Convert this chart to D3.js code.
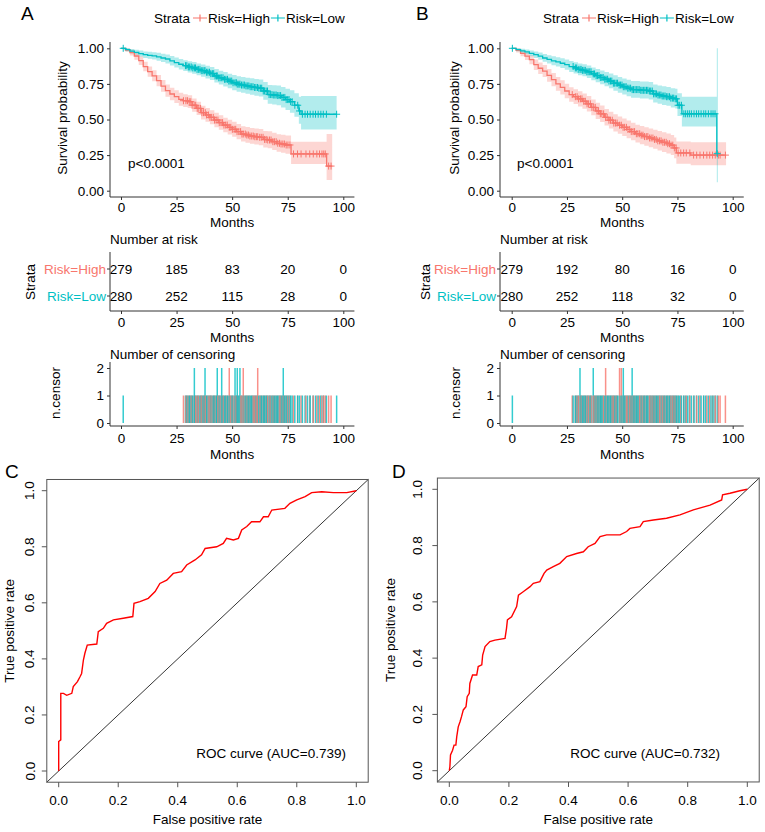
<!DOCTYPE html>
<html lang="en">
<head>
  <meta charset="UTF-8" />
  <title>Risk score survival and ROC</title>
  <script src="https://d3js.org/d3.v7.min.js"></script>
  <style>
    html, body { margin: 0; padding: 0; background: #fff; }
    svg { display: block; font-family: 'Liberation Sans', Arial, Helvetica, sans-serif; }
  </style>
</head>
<body>
<svg width="765" height="832"></svg>
<script>
  // ---- data ----
  // KM rows: [months, survival, lower CI, upper CI]
  const kmA_high = [[0,1,1,1],[2,0.988,0.975,1],[4,0.97,0.95,0.99],[6,0.946,0.92,0.972],[8,0.913,0.882,0.945],
    [10,0.871,0.838,0.905],[12,0.836,0.8,0.872],[14,0.806,0.768,0.845],[16,0.773,0.733,0.813],[18,0.735,0.694,0.777],
    [20,0.703,0.66,0.746],[22,0.679,0.636,0.723],[24,0.66,0.616,0.705],[26,0.642,0.597,0.687],[28,0.632,0.587,0.678],
    [30,0.625,0.58,0.671],[32,0.6,0.554,0.647],[34,0.578,0.531,0.625],[36,0.548,0.5,0.596],[38,0.532,0.484,0.581],
    [40,0.515,0.466,0.565],[42,0.496,0.446,0.547],[44,0.478,0.428,0.53],[46,0.461,0.41,0.513],[48,0.445,0.394,0.498],
    [50,0.431,0.379,0.485],[52,0.415,0.362,0.469],[54,0.398,0.345,0.453],[56,0.391,0.337,0.447],[58,0.384,0.33,0.441],
    [60,0.379,0.324,0.437],[62,0.375,0.319,0.434],[64,0.36,0.303,0.42],[66,0.356,0.298,0.417],[68,0.344,0.285,0.407],
    [70,0.333,0.273,0.397],[72,0.328,0.267,0.393],[74,0.321,0.259,0.387],[76.5,0.258,0.187,0.344],
    [92.5,0.173,0.075,0.398],[95,0.173,0.075,0.398]];
  const kmA_low = [[0,1,1,1],[2,0.99,0.98,1],[4,0.98,0.965,0.995],[6,0.972,0.954,0.99],[8,0.963,0.942,0.984],
    [10,0.955,0.932,0.978],[12,0.951,0.926,0.976],[14,0.947,0.921,0.973],[16,0.94,0.912,0.968],[18,0.932,0.903,0.962],
    [20,0.925,0.894,0.956],[22,0.912,0.879,0.946],[24,0.9,0.865,0.935],[26,0.888,0.852,0.925],[28,0.878,0.841,0.916],
    [30,0.869,0.83,0.909],[32,0.862,0.822,0.903],[34,0.852,0.811,0.894],[36,0.843,0.8,0.886],[38,0.832,0.788,0.877],
    [40,0.822,0.777,0.868],[42,0.806,0.759,0.854],[44,0.793,0.745,0.843],[46,0.782,0.732,0.833],[48,0.77,0.719,0.822],
    [50,0.758,0.706,0.812],[52,0.748,0.694,0.803],[54,0.742,0.687,0.798],[56,0.736,0.68,0.793],[58,0.73,0.673,0.789],
    [60,0.725,0.667,0.785],[62,0.72,0.661,0.781],[64,0.7,0.639,0.764],[66,0.675,0.61,0.742],[68,0.672,0.606,0.74],
    [70,0.668,0.6,0.738],[72,0.655,0.584,0.728],[74,0.64,0.567,0.716],[76,0.625,0.548,0.705],[78,0.6,0.52,0.685],
    [80,0.56,0.47,0.66],[81,0.537,0.43,0.665],[97,0.537,0.43,0.665]];
  const kmB_high = [[0,1,1,1],[2,0.985,0.97,1],[4,0.965,0.944,0.986],[6,0.945,0.918,0.972],[8,0.92,0.888,0.952],
    [10,0.885,0.848,0.922],[12,0.86,0.82,0.9],[14,0.84,0.798,0.882],[16,0.81,0.765,0.855],[18,0.78,0.733,0.827],
    [20,0.75,0.702,0.798],[22,0.725,0.676,0.775],[24,0.7,0.65,0.751],[26,0.675,0.624,0.727],[28,0.66,0.608,0.713],
    [30,0.645,0.592,0.699],[32,0.628,0.575,0.683],[34,0.61,0.556,0.665],[36,0.585,0.53,0.641],[38,0.56,0.504,0.617],
    [40,0.54,0.483,0.598],[42,0.515,0.457,0.574],[44,0.495,0.437,0.555],[46,0.475,0.416,0.536],[48,0.46,0.4,0.521],
    [50,0.445,0.385,0.507],[52,0.43,0.369,0.493],[54,0.415,0.354,0.478],[56,0.4,0.338,0.464],[58,0.39,0.327,0.455],
    [60,0.38,0.316,0.446],[62,0.37,0.305,0.437],[64,0.36,0.294,0.428],[66,0.35,0.283,0.419],[68,0.34,0.272,0.41],
    [70,0.33,0.261,0.401],[72,0.32,0.25,0.392],[73.5,0.3,0.228,0.374],[74.5,0.265,0.19,0.345],
    [81,0.25,0.178,0.34],[97,0.25,0.178,0.34]];
  const kmB_low = [[0,1,1,1],[2,0.99,0.98,1],[4,0.982,0.968,0.996],[6,0.975,0.958,0.992],[8,0.965,0.945,0.985],
    [10,0.955,0.932,0.978],[12,0.945,0.92,0.97],[14,0.932,0.905,0.96],[16,0.922,0.893,0.952],[18,0.912,0.881,0.944],
    [20,0.905,0.872,0.938],[22,0.895,0.861,0.93],[24,0.885,0.849,0.921],[26,0.872,0.834,0.911],[28,0.862,0.823,0.902],
    [30,0.852,0.811,0.894],[32,0.845,0.803,0.888],[34,0.835,0.792,0.879],[36,0.82,0.775,0.866],[38,0.808,0.762,0.855],
    [40,0.795,0.747,0.844],[42,0.783,0.734,0.834],[44,0.77,0.719,0.823],[46,0.755,0.702,0.81],[48,0.742,0.688,0.799],
    [50,0.73,0.675,0.788],[52,0.72,0.664,0.779],[54,0.71,0.653,0.771],[56,0.71,0.653,0.771],[58,0.705,0.647,0.767],
    [60,0.705,0.647,0.767],[62,0.7,0.641,0.763],[64,0.68,0.619,0.746],[66,0.672,0.61,0.739],[68,0.665,0.602,0.733],
    [70,0.66,0.596,0.729],[72,0.65,0.584,0.72],[74,0.645,0.578,0.716],[75,0.6,0.525,0.685],[77,0.54,0.45,0.66],
    [92.8,0.26,0.06,1.0],[93.3,0.26,0.06,1.0]];

  // censoring times in months (a repeated value = 2 censored at that time)
  const censA_high = [28.1,29.2,29.9,30.7,31.4,32.0,32.9,33.6,34.3,35.0,35.8,36.4,37.1,37.9,38.5,39.3,40.0,40.6,41.5,
    42.1,42.8,43.6,44.2,45.0,45.7,46.3,47.1,47.8,48.7,48.7,49.4,50.1,50.9,51.6,52.2,53.0,53.8,54.4,55.0,55.0,55.9,56.6,
    57.3,58.0,58.8,59.5,60.2,60.9,61.5,61.5,62.4,63.1,63.9,64.6,65.3,66.0,66.8,67.5,68.3,69.0,69.8,70.5,71.3,72.0,72.8,
    73.5,74.3,75.1,76.0,77.6,79.4,81.0,83.2,84.9,86.5,88.1,89.3,90.4,91.2,91.9,93.4,94.5];
  const censA_low = [1.0,29.0,29.6,30.3,30.9,31.6,32.3,33.0,33.0,33.5,34.2,34.8,35.5,36.1,36.8,37.4,37.8,37.8,38.5,39.1,
    39.8,40.4,41.1,41.7,42.3,43.0,43.3,43.3,44.0,44.6,45.3,45.3,45.9,46.6,47.2,47.9,48.5,49.1,49.8,50.4,51.3,51.3,51.9,
    52.3,52.3,53.0,53.5,53.5,54.2,54.9,55.5,56.2,56.8,57.5,58.1,58.8,59.4,60.1,60.7,61.4,62.0,62.7,63.3,64.0,64.6,65.3,
    65.9,66.6,67.2,67.9,68.5,69.2,69.8,70.5,71.1,71.8,72.4,73.0,73.0,73.7,74.3,75.0,75.6,76.3,77.0,78.2,79.5,80.3,81.6,
    82.8,83.9,85.1,86.4,87.5,88.7,89.9,91.0,92.4,97.0];
  const censB_high = [27.4,28.8,29.6,30.3,31.1,31.8,32.6,33.3,34.1,34.8,35.6,36.3,37.1,37.8,38.6,39.3,40.1,40.8,41.6,
    42.5,42.5,43.2,44.0,44.7,45.5,46.2,47.0,47.7,48.8,48.8,49.6,49.6,50.4,51.1,51.9,52.6,53.4,54.1,54.9,55.6,56.4,57.1,
    57.9,58.6,59.4,60.1,60.9,61.6,62.4,63.1,63.9,64.6,65.4,66.1,66.9,67.6,68.4,69.1,69.9,70.6,71.4,72.1,72.9,73.6,74.4,
    75.3,76.5,77.8,79.0,80.6,82.3,83.7,85.2,86.8,88.3,89.6,90.9,92.1,93.5,94.3,96.7];
  const censB_low = [0.3,27.8,28.8,29.4,30.1,30.9,30.9,31.4,32.0,32.7,33.3,34.0,34.6,35.3,35.9,36.9,36.9,37.5,38.2,38.8,
    39.5,40.1,40.8,41.4,42.1,42.7,43.4,44.0,44.7,45.3,46.0,46.6,47.3,47.9,48.6,49.2,49.9,50.5,50.5,51.2,51.8,52.5,53.1,
    53.8,54.5,54.5,55.1,55.8,56.4,57.1,57.7,58.4,59.0,59.7,60.3,61.0,61.6,62.3,62.9,63.6,64.2,64.9,65.5,66.2,66.8,67.5,
    68.1,68.8,69.4,70.1,70.7,71.4,72.0,72.7,73.3,74.0,74.6,75.3,76.0,76.8,77.9,78.7,79.6,80.4,81.3,82.5,83.6,84.6,85.7,
    86.9,87.8,89.0,90.2,91.1,92.0,93.0];

  const riskTimes = [0, 25, 50, 75, 100];
  const riskA_high = [279, 185, 83, 20, 0];
  const riskA_low = [280, 252, 115, 28, 0];
  const riskB_high = [279, 192, 80, 16, 0];
  const riskB_low = [280, 252, 118, 32, 0];

  const rocC_fpr = [0,0,0.007,0.007,0.016,0.027,0.044,0.049,0.063,0.072,0.077,0.083,0.088,0.096,0.128,0.133,0.15,0.161,
    0.184,0.217,0.249,0.253,0.273,0.301,0.324,0.34,0.363,0.385,0.413,0.43,0.458,0.48,0.492,0.531,0.553,0.564,0.587,0.604,
    0.615,0.632,0.648,0.676,0.688,0.704,0.716,0.76,0.777,0.8,0.828,0.85,0.884,0.923,0.968,1];
  const rocC_tpr = [0,0.105,0.111,0.277,0.277,0.27,0.277,0.301,0.319,0.337,0.348,0.396,0.42,0.449,0.453,0.497,0.509,0.527,
    0.539,0.545,0.551,0.598,0.604,0.616,0.64,0.669,0.681,0.705,0.711,0.735,0.753,0.771,0.794,0.8,0.812,0.83,0.824,0.83,
    0.86,0.872,0.889,0.889,0.907,0.907,0.931,0.937,0.955,0.967,0.979,0.993,0.996,0.993,0.993,1];
  const rocD_fpr = [0,0.002,0.004,0.011,0.016,0.022,0.025,0.03,0.036,0.041,0.047,0.056,0.06,0.067,0.069,0.078,0.092,0.097,
    0.109,0.112,0.12,0.136,0.153,0.187,0.192,0.195,0.209,0.226,0.232,0.248,0.271,0.282,0.304,0.318,0.327,0.349,0.371,0.394,
    0.427,0.45,0.466,0.489,0.506,0.528,0.573,0.595,0.606,0.64,0.651,0.685,0.729,0.774,0.819,0.875,0.914,0.917,0.942,0.975,1];
  const rocD_tpr = [0,0.014,0.056,0.073,0.091,0.091,0.121,0.156,0.174,0.192,0.216,0.227,0.263,0.275,0.31,0.34,0.34,0.37,
    0.376,0.411,0.441,0.459,0.464,0.47,0.506,0.536,0.547,0.583,0.624,0.636,0.654,0.666,0.672,0.701,0.713,0.725,0.737,0.761,
    0.772,0.778,0.796,0.808,0.832,0.838,0.838,0.85,0.861,0.867,0.885,0.891,0.897,0.909,0.927,0.944,0.962,0.98,0.986,0.995,1];

  const ticksKM = [0, 0.25, 0.5, 0.75, 1];
  const ticksROC = [0, 0.2, 0.4, 0.6, 0.8, 1];

  // ---- drawing ----
  const svg = d3.select("svg");
  const red = "#F8766D", teal = "#00BFC4";
  const fs = 13.5;

  function survAt(rows, t) {
    let s = rows[0][1];
    for (const r of rows) { if (r[0] <= t) s = r[1]; else break; }
    return s;
  }

  function label(g, x, y, txt, opts = {}) {
    const t = g.append("text")
      .attr("x", x).attr("y", y)
      .attr("font-size", opts.size || fs)
      .attr("fill", opts.color || "#000")
      .attr("text-anchor", opts.anchor || "start")
      .attr("dominant-baseline", "central")
      .text(txt);
    if (opts.rotate) t.attr("transform", `rotate(-90,${x},${y})`);
    return t;
  }

  function styleAxis(sel) {
    sel.select(".domain").remove();
    sel.selectAll(".tick line").attr("stroke", "#333");
    sel.selectAll("text").attr("font-size", fs).attr("fill", "#000")
      .attr("font-family", "'Liberation Sans', Arial, sans-serif");
  }

  function plus(cx, cy) {
    return `M${cx - 3.5},${cy}H${cx + 3.5}M${cx},${cy - 3.5}V${cy + 3.5}`;
  }

  function drawKM(p) {
    const g = svg.append("g");
    const x = d3.scaleLinear().domain([0, 100]).range(p.xRange);
    const y = d3.scaleLinear().domain([0, 1]).range([190.7, 48.3]);
    const ax = p.axisX, xEnd = x(105);
    const groups = [
      { rows: p.high, cens: p.censHigh, color: red, name: "Risk=High", risk: p.riskHigh },
      { rows: p.low, cens: p.censLow, color: teal, name: "Risk=Low", risk: p.riskLow }
    ];

    g.append("text").attr("x", p.letterX).attr("y", 20).attr("font-size", 19).text(p.letter);

    // legend
    label(g, p.legX, 18, "Strata");
    let lx = p.legX + 39;
    groups.forEach(gr => {
      g.append("path").attr("d", `M${lx},18H${lx + 14}` + plus(lx + 7, 18))
        .attr("stroke", gr.color).attr("stroke-width", 1.2);
      const t = label(g, lx + 15, 18, gr.name);
      lx += 15 + t.node().getComputedTextLength() + 1;
    });

    // survival curves
    groups.forEach(gr => {
      g.append("path").datum(gr.rows)
        .attr("d", d3.area().curve(d3.curveStepAfter)
          .x(d => x(d[0])).y0(d => y(d[2])).y1(d => y(d[3])))
        .attr("fill", gr.color).attr("fill-opacity", 0.3);
    });
    groups.forEach(gr => {
      g.append("path").datum(gr.rows)
        .attr("d", d3.line().curve(d3.curveStepAfter).x(d => x(d[0])).y(d => y(d[1])))
        .attr("fill", "none").attr("stroke", gr.color).attr("stroke-width", 1.3);
      g.append("g").selectAll("path")
        .data(Array.from(new Set(gr.cens)))
        .join("path")
        .attr("d", t => plus(x(t), y(survAt(gr.rows, t))))
        .attr("stroke", gr.color).attr("stroke-width", 1);
    });

    // axes
    g.append("path").attr("d", `M${ax},42V197H${xEnd}`).attr("fill", "none").attr("stroke", "#333");
    g.append("g").attr("transform", `translate(${ax},0)`)
      .call(d3.axisLeft(y).tickValues(ticksKM).tickFormat(d3.format(".2f")).tickSize(3).tickPadding(3))
      .call(styleAxis);
    g.append("g").attr("transform", "translate(0,197)")
      .call(d3.axisBottom(x).tickValues(riskTimes).tickSize(3).tickPadding(2))
      .call(styleAxis);
    label(g, x(50), 222, "Months", { anchor: "middle" });
    label(g, p.ylabX, 118, "Survival probability", { anchor: "middle", rotate: true });
    label(g, p.pX, 163, "p<0.0001");

    // number at risk table
    label(g, ax, 239, "Number at risk");
    const rowY = [269, 296];
    groups.forEach((gr, i) => {
      gr.risk.forEach((v, j) => label(g, x(riskTimes[j]), rowY[i], v, { anchor: "middle" }));
      label(g, ax - 4, rowY[i], gr.name, { anchor: "end", color: gr.color });
      g.append("line").attr("x1", ax - 3).attr("x2", ax).attr("y1", rowY[i]).attr("y2", rowY[i]).attr("stroke", "#333");
    });
    g.append("path").attr("d", `M${ax},252V311H${xEnd}`).attr("fill", "none").attr("stroke", "#333");
    g.append("g").attr("transform", "translate(0,311)")
      .call(d3.axisBottom(x).tickValues(riskTimes).tickSize(3).tickPadding(3))
      .call(styleAxis);
    label(g, x(50), 337, "Months", { anchor: "middle" });
    label(g, p.strataX, 282, "Strata", { anchor: "middle", rotate: true });

    // number of censoring
    label(g, ax, 354, "Number of censoring");
    const yc = d3.scaleLinear().domain([0, 2]).range([423, 368]);
    const bars = [];
    groups.forEach(gr => {
      d3.rollup(gr.cens, v => v.length, d => d).forEach((n, t) => bars.push({ t, n, color: gr.color }));
    });
    bars.sort((a, b) => a.t - b.t);
    g.append("g").selectAll("line").data(bars).join("line")
      .attr("x1", d => x(d.t)).attr("x2", d => x(d.t))
      .attr("y1", yc(0)).attr("y2", d => yc(d.n))
      .attr("stroke", d => d.color).attr("stroke-width", 1.5).attr("stroke-opacity", 0.8);
    g.append("path").attr("d", `M${ax},362V426H${xEnd}`).attr("fill", "none").attr("stroke", "#333");
    g.append("g").attr("transform", `translate(${ax},0)`)
      .call(d3.axisLeft(yc).tickValues([0, 1, 2]).tickFormat(d3.format("d")).tickSize(3).tickPadding(3))
      .call(styleAxis);
    g.append("g").attr("transform", "translate(0,426)")
      .call(d3.axisBottom(x).tickValues(riskTimes).tickSize(3).tickPadding(4))
      .call(styleAxis);
    label(g, x(50), 454, "Months", { anchor: "middle" });
    label(g, p.ncX, 393, "n.censor", { anchor: "middle", rotate: true });
  }

  function drawROC(p) {
    const g = svg.append("g");
    const x = d3.scaleLinear().domain([0, 1]).range(p.xRange);
    const y = d3.scaleLinear().domain([0, 1]).range(p.yRange);
    const bx0 = x(-0.04), bx1 = x(1.04), by0 = y(-0.04), by1 = y(1.04);

    g.append("text").attr("x", p.letterX).attr("y", 478).attr("font-size", 19).text(p.letter);

    g.append("line").attr("x1", bx0).attr("y1", by0).attr("x2", bx1).attr("y2", by1)
      .attr("stroke", "#000").attr("stroke-width", 0.8);
    g.append("path").datum(d3.zip(p.fpr, p.tpr))
      .attr("d", d3.line().x(d => x(d[0])).y(d => y(d[1])))
      .attr("fill", "none").attr("stroke", "#FF0000").attr("stroke-width", 1.4);
    g.append("rect").attr("x", bx0).attr("y", by1).attr("width", bx1 - bx0).attr("height", by0 - by1)
      .attr("fill", "none").attr("stroke", "#555").attr("stroke-width", 1);

    ticksROC.forEach(v => {
      g.append("line").attr("x1", x(v)).attr("x2", x(v)).attr("y1", by0).attr("y2", by0 + 5).attr("stroke", "#555");
      label(g, x(v), 800, d3.format(".1f")(v), { anchor: "middle", size: 13.5 });
      g.append("line").attr("y1", y(v)).attr("y2", y(v)).attr("x1", bx0).attr("x2", bx0 - 5).attr("stroke", "#555");
      label(g, p.yTickX, y(v), d3.format(".1f")(v), { anchor: "middle", size: 13.5, rotate: true });
    });
    label(g, (bx0 + bx1) / 2, 819, "False positive rate", { anchor: "middle", size: 13.5 });
    label(g, p.ylabX, (by0 + by1) / 2, "True positive rate", { anchor: "middle", size: 13.5, rotate: true });
    label(g, p.aucX, 753, p.auc, { anchor: "end", size: 13.5 });
  }

  drawKM({ letter: "A", letterX: 21, axisX: 110, xRange: [121, 343.3], legX: 154, ylabX: 62, pX: 128,
    strataX: 30, ncX: 55, high: kmA_high, low: kmA_low, censHigh: censA_high, censLow: censA_low,
    riskHigh: riskA_high, riskLow: riskA_low });
  drawKM({ letter: "B", letterX: 416, axisX: 500, xRange: [511.7, 732.7], legX: 543, ylabX: 454, pX: 517,
    strataX: 425, ncX: 455, high: kmB_high, low: kmB_low, censHigh: censB_high, censLow: censB_low,
    riskHigh: riskB_high, riskLow: riskB_low });
  drawROC({ letter: "C", letterX: 5, xRange: [58.7, 356.3], yRange: [771, 490.7], yTickX: 30, ylabX: 10,
    aucX: 346, auc: "ROC curve (AUC=0.739)", fpr: rocC_fpr, tpr: rocC_tpr });
  drawROC({ letter: "D", letterX: 392, xRange: [449.3, 747.3], yRange: [770.7, 489.3], yTickX: 418, ylabX: 390,
    aucX: 720, auc: "ROC curve (AUC=0.732)", fpr: rocD_fpr, tpr: rocD_tpr });
</script>
</body>
</html>
